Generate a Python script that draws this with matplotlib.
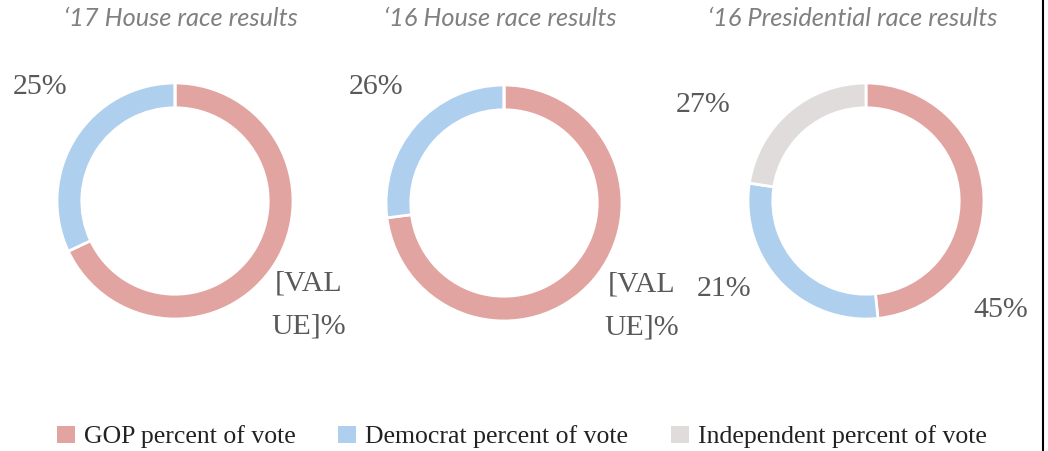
import matplotlib.pyplot as plt
from matplotlib.patches import Patch
from matplotlib.lines import Line2D

# Data (wedge shares as drawn, label texts as shown)
titles = ["\u201817 House race results", "\u201816 House race results", "\u201816 Presidential race results"]
series = ["GOP percent of vote", "Democrat percent of vote", "Independent percent of vote"]
gop = [68, 73, 45]
dem = [32, 27, 27]
ind = [0, 0, 21]
gop_labels = ["[VAL\nUE]%", "[VAL\nUE]%", "45%"]
dem_labels = ["25%", "26%", "21%"]
ind_labels = [None, None, "27%"]

colors = ["#E2A4A0", "#AECFEE", "#E0DCDC"]

# layout (pixels, y from top)
W, H = 1048, 451
R = 118
centers = [(175, 201), (504, 203), (866, 201)]
title_x = [181, 500, 853]
gop_pos = [(1.13, -0.88), (1.17, -0.87), (1.14, -0.92)]
dem_pos = [(-1.14, 0.97), (-1.08, 0.98), (-1.20, -0.75)]
ind_pos = [None, None, (-1.38, 0.81)]

fig = plt.figure(figsize=(W / 100, H / 100), dpi=100)
L = 1.2
for i in range(3):
    cx, cy = centers[i]
    side = 2 * L * R
    ax = fig.add_axes([(cx - side / 2) / W, (H - cy - side / 2) / H, side / W, side / H])
    vals = [gop[i], dem[i], ind[i]]
    ax.pie(vals, colors=colors, startangle=90, counterclock=False, radius=1,
           wedgeprops=dict(width=0.21, edgecolor="white", linewidth=2))
    ax.set_xlim(-L, L)
    ax.set_ylim(-L, L)
    ax.set_aspect("equal")
    ax.axis("off")
    lab_style = dict(fontsize=21.5, color="#595959", family="Liberation Serif",
                     ha="center", va="center", linespacing=1.85)
    ax.text(*gop_pos[i], gop_labels[i], **lab_style)
    ax.text(*dem_pos[i], dem_labels[i], **lab_style)
    if ind_labels[i]:
        ax.text(*ind_pos[i], ind_labels[i], **lab_style)
    fig.text(title_x[i] / W, 1 - 18 / H, titles[i], fontsize=18.3, style="italic",
             color="#808080", family="Lato", ha="center", va="center")

handles = [Patch(facecolor=c, edgecolor="none") for c in colors]
fig.legend(handles, series, loc="center", bbox_to_anchor=(522 / W, 1 - 437 / H), ncol=3,
           frameon=False, prop={"family": "Liberation Serif", "size": 18.5},
           labelcolor="#222222",
           handlelength=0.7, handleheight=0.7, handletextpad=0.35, columnspacing=1.65,
           borderpad=0, borderaxespad=0)

fig.add_artist(Line2D([1043 / W, 1043 / W], [0, 1], color="black", linewidth=1.5))

fig.savefig("out.png", dpi=100)
